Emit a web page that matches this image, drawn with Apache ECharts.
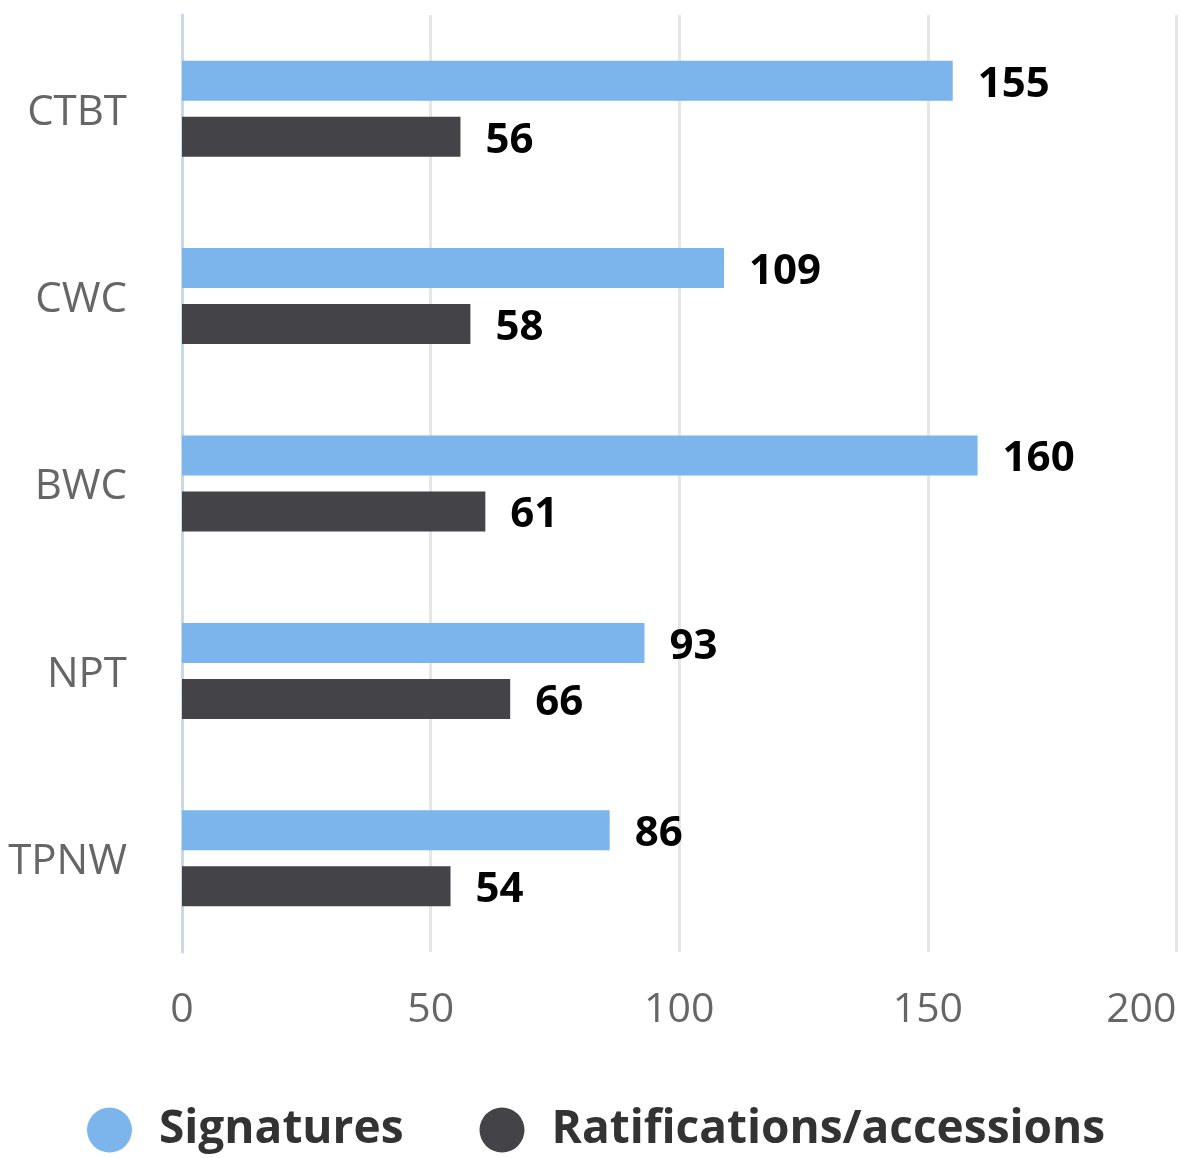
<!DOCTYPE html>
<html>
<head>
<meta charset="utf-8">
<style>
  html, body { margin: 0; padding: 0; background: #ffffff; overflow: hidden; }
  #chart { width: 1184px; height: 1158px; }
</style>
<script src="https://cdn.jsdelivr.net/npm/echarts@6/dist/echarts.min.js"></script>
</head>
<body>
<div id="chart"></div>
<script>
// Treaty membership counts
const treaties = ['CTBT', 'CWC', 'BWC', 'NPT', 'TPNW'];
const signatures = [155, 109, 160, 93, 86];
const ratifications = [56, 58, 61, 66, 54];
const valueTicks = [0, 50, 100, 150, 200];

const FONT = '"Open Sans", "DejaVu Sans", sans-serif';

const chart = echarts.init(document.getElementById('chart'), null, { renderer: 'canvas' });

const labelStyle = {
  show: true,
  position: 'right',
  distance: 25,
  offset: [0, 4],
  color: '#000000',
  fontFamily: FONT,
  fontWeight: 'bold',
  fontSize: 42
};

chart.setOption({
  animation: false,
  backgroundColor: '#ffffff',
  grid: {
    left: 182, right: 7.5, top: 15, bottom: 206,
    containLabel: false,
    outerBoundsMode: 'none'
  },
  legend: {
    data: ['Signatures', 'Ratifications/accessions'],
    left: 87,
    top: 1107,
    padding: 0,
    icon: 'circle',
    itemWidth: 45,
    itemHeight: 45,
    itemGap: 76,
    textStyle: {
      fontFamily: FONT,
      fontWeight: 'bold',
      fontSize: 46,
      color: '#333333',
      padding: [0, 0, 8, 22]
    }
  },
  xAxis: {
    type: 'value',
    min: valueTicks[0],
    max: valueTicks[valueTicks.length - 1],
    interval: valueTicks[1] - valueTicks[0],
    axisLine: { show: false },
    axisTick: { show: false },
    splitLine: { show: true, lineStyle: { color: '#e6e6e6', width: 3 } },
    axisLabel: {
      color: '#666666',
      fontFamily: FONT,
      fontSize: 41,
      margin: 38,
      alignMaxLabel: 'right'
    }
  },
  yAxis: {
    type: 'category',
    data: treaties,
    inverse: true,
    axisLine: { show: true, lineStyle: { color: '#ccd6eb', width: 3 } },
    axisTick: { show: false },
    splitLine: { show: false },
    axisLabel: {
      color: '#666666',
      fontFamily: FONT,
      fontSize: 42,
      margin: 55,
      formatter: '{t|{value}}',
      rich: {
        t: {
          color: '#666666',
          fontFamily: FONT,
          fontSize: 42,
          padding: [8, 0, 0, 0]
        }
      }
    }
  },
  series: [
    {
      name: 'Signatures',
      type: 'bar',
      data: signatures,
      barWidth: 40,
      barGap: '40%',
      itemStyle: { color: '#7cb5ec' },
      label: labelStyle
    },
    {
      name: 'Ratifications/accessions',
      type: 'bar',
      data: ratifications,
      barWidth: 40,
      barGap: '40%',
      itemStyle: { color: '#434348' },
      label: labelStyle
    }
  ]
});
</script>
</body>
</html>
